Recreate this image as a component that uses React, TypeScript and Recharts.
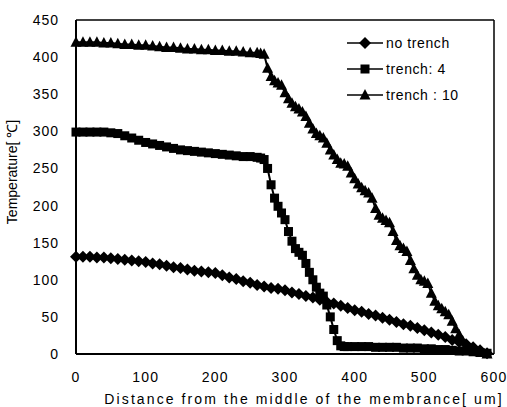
import React from 'react';
import { LineChart, Line, XAxis, YAxis, ReferenceLine } from 'recharts';

// distance from the middle of the membrane [um] / temperature [C]
const noTrenchX = [
  0, 10, 20, 30, 40, 50, 60, 70, 80, 90, 100, 110, 120, 130, 140, 150, 160, 170, 180, 190,
  200, 210, 220, 230, 240, 250, 260, 270, 280, 290, 300, 310, 320, 330, 340, 350, 360, 370, 380, 390,
  400, 410, 420, 430, 440, 450, 460, 470, 480, 490, 500, 510, 520, 530, 540, 550, 560, 570, 580, 590,
];
const noTrenchY = [
  131, 131, 131, 130, 130, 129, 128, 127, 126, 125, 124, 122, 121, 119, 117, 116, 114, 112, 111, 110,
  109, 106, 103, 101, 98, 96, 93, 91, 89, 88, 86, 83, 81, 78, 76, 73, 70, 68, 65, 62,
  59, 57, 54, 52, 49, 46, 43, 40, 38, 35, 32, 29, 26, 23, 19, 16, 13, 9, 5, 1,
];

const trench4X = [
  0, 10, 20, 30, 40, 50, 60, 70, 80, 90, 100, 110, 120, 130, 140, 150, 160, 170, 180, 190, 200, 210, 220, 230, 240, 250, 260,
  265, 270, 275, 280, 285, 290, 295, 300, 305, 310, 315, 320, 325, 330, 335, 340, 345, 350, 355, 360, 365, 370, 375, 380, 385,
  390, 400, 410, 420, 430, 440, 450, 460, 470, 480, 490, 500, 510, 520, 530, 540, 550, 560, 570, 580, 590,
];
const trench4Y = [
  299, 299, 299, 299, 299, 298, 297, 294, 291, 288, 285, 283, 281, 279, 277, 275, 274, 273, 272, 271, 270, 269, 268, 267, 266, 266, 265,
  264, 262, 250, 228, 210, 199, 190, 181, 165, 152, 142, 137, 133, 122, 110, 100, 90, 82, 78, 66, 50, 33, 18, 11, 10,
  10, 10, 10, 10, 9, 9, 9, 9, 8, 8, 8, 7, 7, 6, 6, 5, 4, 4, 3, 2, 1,
];

const trench10X = [
  0, 10, 20, 30, 40, 50, 60, 70, 80, 90, 100, 110, 120, 130, 140, 150, 160, 170, 180, 190, 200, 210, 220, 230, 240, 250, 260,
  265, 270, 275, 280, 285, 290, 295, 300, 305, 310, 315, 320, 325, 330, 335, 340, 345, 350, 355, 360, 365, 370, 375, 380,
  385, 390, 395, 400, 405, 410, 415, 420, 425, 430, 435, 440, 445, 450, 455, 460, 465, 470, 475, 480, 485, 490, 495, 500,
  505, 510, 515, 520, 525, 530, 535, 540, 545, 550, 555, 560, 570, 580, 590,
];
const trench10Y = [
  420, 420, 420, 420, 419, 419, 418, 417, 417, 416, 416, 415, 414, 413, 413, 412, 411, 411, 410, 410, 409, 409, 408, 408, 407, 406, 406,
  405, 404, 385, 374, 368, 365, 362, 352, 344, 338, 333, 330, 326, 320, 311, 303, 297, 294, 291, 284, 275, 268, 262, 257,
  256, 253, 244, 236, 229, 224, 220, 217, 210, 196, 187, 183, 180, 177, 165, 153, 146, 142, 138, 126, 115, 106, 100, 98,
  95, 82, 71, 65, 61, 57, 53, 44, 34, 26, 18, 10, 6, 3, 0,
];

const xTicks = [0, 100, 200, 300, 400, 500, 600];
const yTicks = [0, 50, 100, 150, 200, 250, 300, 350, 400, 450];

const font = '"Liberation Sans", Arial, sans-serif';

const toRows = (xs: number[], ys: number[]) => xs.map((x, i) => ({ x, y: ys[i] }));

const Diamond = (props: any) => {
  const { cx, cy } = props;
  if (cx == null || cy == null) return null;
  return <path d={`M${cx},${cy - 6}L${cx + 6},${cy}L${cx},${cy + 6}L${cx - 6},${cy}Z`} fill="#000" />;
};
const Square = (props: any) => {
  const { cx, cy } = props;
  if (cx == null || cy == null) return null;
  return <rect x={cx - 4.5} y={cy - 4.5} width={9} height={9} fill="#000" />;
};
const Triangle = (props: any) => {
  const { cx, cy } = props;
  if (cx == null || cy == null) return null;
  return <path d={`M${cx},${cy - 6}L${cx + 5.5},${cy + 4.5}L${cx - 5.5},${cy + 4.5}Z`} fill="#000" />;
};

const legendItems = [
  { name: 'no trench', shape: Diamond },
  { name: 'trench: 4', shape: Square },
  { name: 'trench : 10', shape: Triangle },
];

const LegendBox = () => (
  <div
    style={{
      position: 'absolute',
      left: 347,
      top: 30,
      fontFamily: font,
      fontSize: 14,
      letterSpacing: 0.6,
      color: '#000',
    }}
  >
    {legendItems.map((it) => (
      <div key={it.name} style={{ display: 'flex', alignItems: 'center', height: 26 }}>
        <svg width={36} height={14}>
          <line x1={0} y1={7} x2={36} y2={7} stroke="#000" strokeWidth={1.5} />
          <it.shape cx={18} cy={7} />
        </svg>
        <span style={{ marginLeft: 3 }}>{it.name}</span>
      </div>
    ))}
  </div>
);

export default function App() {
  return (
    <div style={{ position: 'absolute', left: 0, top: 0, width: 507, height: 407, background: '#fff' }}>
      <LineChart width={507} height={407} margin={{ top: 20, right: 13, bottom: 0, left: 0 }}>
        <XAxis
          type="number"
          dataKey="x"
          domain={[0, 600]}
          ticks={xTicks}
          allowDuplicatedCategory={false}
          height={53}
          axisLine={{ stroke: '#000', strokeWidth: 2 }}
          tickLine={false}
          tickSize={0}
          tickMargin={18}
          tick={{ fill: '#000', fontSize: 14, fontFamily: font, letterSpacing: 1.2 }}
          label={{
            value: 'Distance from the middle of the membrance[ um]',
            position: 'insideBottom',
            offset: 3,
            dx: 19,
            style: { fill: '#000', fontSize: 14, fontFamily: font, letterSpacing: 2.1 },
          }}
        />
        <YAxis
          type="number"
          dataKey="y"
          domain={[0, 450]}
          ticks={yTicks}
          width={76}
          axisLine={{ stroke: '#000', strokeWidth: 2 }}
          tickLine={false}
          tickSize={0}
          tickMargin={17}
          tick={{ fill: '#000', fontSize: 14, fontFamily: font, letterSpacing: 1 }}
          label={{
            value: 'Temperature[ ℃]',
            angle: -90,
            position: 'insideLeft',
            offset: 12,
            dy: -15,
            style: { fill: '#000', fontSize: 14, fontFamily: font, textAnchor: 'middle' },
          }}
        />
        <ReferenceLine y={450} stroke="#000" strokeWidth={1.5} />
        <ReferenceLine x={600} stroke="#000" strokeWidth={1.5} />
        <Line
          data={toRows(noTrenchX, noTrenchY)}
          dataKey="y"
          name="no trench"
          stroke="#000"
          strokeWidth={2}
          dot={<Diamond />}
          isAnimationActive={false}
        />
        <Line
          data={toRows(trench4X, trench4Y)}
          dataKey="y"
          name="trench: 4"
          stroke="#000"
          strokeWidth={2}
          dot={<Square />}
          isAnimationActive={false}
        />
        <Line
          data={toRows(trench10X, trench10Y)}
          dataKey="y"
          name="trench : 10"
          stroke="#000"
          strokeWidth={2}
          dot={<Triangle />}
          isAnimationActive={false}
        />
      </LineChart>
      <LegendBox />
    </div>
  );
}
